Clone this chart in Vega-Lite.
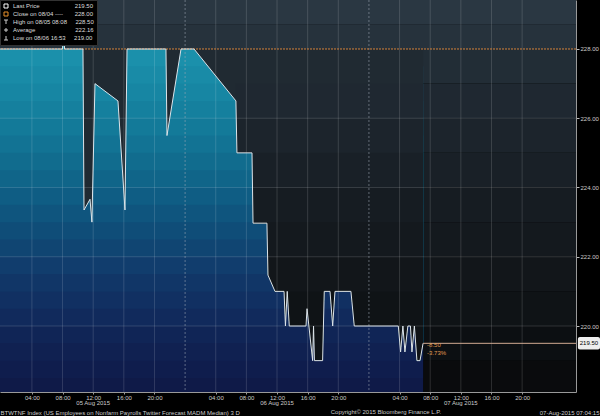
{
  "$schema": "https://vega.github.io/schema/vega-lite/v6.json",
  "width": 576,
  "height": 392,
  "autosize": {"type": "none"},
  "padding": {"left": 0, "top": 0, "right": 24, "bottom": 24},
  "background": "#000000",
  "config": {"view": {"stroke": null}, "font": "Liberation Sans", "axis": {"labelOverlap": false}},
  "datasets": {
    "series": [
      {"t": "2015-08-04T23:50:00Z", "v": 228},
      {"t": "2015-08-05T08:00:00Z", "v": 228},
      {"t": "2015-08-05T08:08:00Z", "v": 228.5},
      {"t": "2015-08-05T08:16:00Z", "v": 228},
      {"t": "2015-08-05T10:40:00Z", "v": 228},
      {"t": "2015-08-05T10:48:00Z", "v": 223.35},
      {"t": "2015-08-05T11:35:00Z", "v": 223.66},
      {"t": "2015-08-05T11:50:00Z", "v": 223.0},
      {"t": "2015-08-05T12:14:00Z", "v": 227.0},
      {"t": "2015-08-05T15:14:00Z", "v": 226.5},
      {"t": "2015-08-05T16:09:00Z", "v": 223.35},
      {"t": "2015-08-05T16:25:00Z", "v": 228},
      {"t": "2015-08-05T21:30:00Z", "v": 228},
      {"t": "2015-08-05T21:38:00Z", "v": 225.5},
      {"t": "2015-08-05T23:28:00Z", "v": 228},
      {"t": "2015-08-06T01:10:00Z", "v": 228},
      {"t": "2015-08-06T06:38:00Z", "v": 226.5},
      {"t": "2015-08-06T06:46:00Z", "v": 225.0},
      {"t": "2015-08-06T08:44:00Z", "v": 225.0},
      {"t": "2015-08-06T08:52:00Z", "v": 222.97},
      {"t": "2015-08-06T10:41:00Z", "v": 222.97},
      {"t": "2015-08-06T10:49:00Z", "v": 221.47},
      {"t": "2015-08-06T11:44:00Z", "v": 221.0},
      {"t": "2015-08-06T12:55:00Z", "v": 221.0},
      {"t": "2015-08-06T13:06:00Z", "v": 220.0},
      {"t": "2015-08-06T13:20:00Z", "v": 221.0},
      {"t": "2015-08-06T13:36:00Z", "v": 220.0},
      {"t": "2015-08-06T15:47:00Z", "v": 220.0},
      {"t": "2015-08-06T15:55:00Z", "v": 220.5},
      {"t": "2015-08-06T16:39:00Z", "v": 219.0},
      {"t": "2015-08-06T16:46:00Z", "v": 220.0},
      {"t": "2015-08-06T16:53:00Z", "v": 219.0},
      {"t": "2015-08-06T17:57:00Z", "v": 219.0},
      {"t": "2015-08-06T18:10:00Z", "v": 221.0},
      {"t": "2015-08-06T18:55:00Z", "v": 221.0},
      {"t": "2015-08-06T19:16:00Z", "v": 220.0},
      {"t": "2015-08-06T19:34:00Z", "v": 221.0},
      {"t": "2015-08-06T21:39:00Z", "v": 221.0},
      {"t": "2015-08-06T22:05:00Z", "v": 220.0},
      {"t": "2015-08-07T03:50:00Z", "v": 220.0},
      {"t": "2015-08-07T04:08:00Z", "v": 219.25},
      {"t": "2015-08-07T04:26:00Z", "v": 220.0},
      {"t": "2015-08-07T04:42:00Z", "v": 219.25},
      {"t": "2015-08-07T05:05:00Z", "v": 220.0},
      {"t": "2015-08-07T05:25:00Z", "v": 220.0},
      {"t": "2015-08-07T05:37:00Z", "v": 219.25},
      {"t": "2015-08-07T05:56:00Z", "v": 220.0},
      {"t": "2015-08-07T06:16:00Z", "v": 219.0},
      {"t": "2015-08-07T06:40:00Z", "v": 219.0},
      {"t": "2015-08-07T07:04:00Z", "v": 219.5}
    ],
    "legend": [
      {"item": "Last Price\u00a0\u00a0\u00a0\u00a0\u00a0\u00a0\u00a0\u00a0\u00a0\u00a0\u00a0\u00a0\u00a0\u00a0\u00a0\u00a0\u00a0\u00a0\u00a0\u00a0\u00a0219.50"},
      {"item": "Close on 08/04 ----\u00a0\u00a0\u00a0\u00a0\u00a0\u00a0\u00a0228.00"},
      {"item": "High on 08/05 08:08\u00a0\u00a0\u00a0\u00a0\u00a0228.50"},
      {"item": "Average\u00a0\u00a0\u00a0\u00a0\u00a0\u00a0\u00a0\u00a0\u00a0\u00a0\u00a0\u00a0\u00a0\u00a0\u00a0\u00a0\u00a0\u00a0\u00a0\u00a0\u00a0\u00a0\u00a0\u00a0222.16"},
      {"item": "Low on 08/06 16:53\u00a0\u00a0\u00a0\u00a0\u00a0219.00"}
    ],
    "notes": [
      {"t": "2015-08-07T07:04:00Z", "v": 219.5, "label": ["-8.50", "-3.73%"]}
    ],
    "dates": [
      {"t": "2015-08-05T12:00:00Z", "label": "05 Aug 2015"},
      {"t": "2015-08-06T12:00:00Z", "label": "06 Aug 2015"},
      {"t": "2015-08-07T12:00:00Z", "label": "07 Aug 2015"}
    ]
  },
  "layer": [
    {"data": {"name": "notes"}, "mark": {"type": "rect", "color": "#2a3742"}, "encoding": {"x": {"datum": {"utc": true, "year": 2015, "month": 8, "date": 4, "hours": 23, "minutes": 50}, "type": "temporal"}, "x2": {"datum": {"utc": true, "year": 2015, "month": 8, "date": 8, "hours": 3, "minutes": 2}}, "y": {"datum": 229.415, "type": "quantitative"}, "y2": {"datum": 228.7}}},
    {"data": {"name": "notes"}, "mark": {"type": "rect", "color": "#26323c"}, "encoding": {"x": {"datum": {"utc": true, "year": 2015, "month": 8, "date": 4, "hours": 23, "minutes": 50}, "type": "temporal"}, "x2": {"datum": {"utc": true, "year": 2015, "month": 8, "date": 8, "hours": 3, "minutes": 2}}, "y": {"datum": 228.7, "type": "quantitative"}, "y2": {"datum": 228}}},
    {"data": {"name": "notes"}, "mark": {"type": "rect", "color": "#222d36"}, "encoding": {"x": {"datum": {"utc": true, "year": 2015, "month": 8, "date": 4, "hours": 23, "minutes": 50}, "type": "temporal"}, "x2": {"datum": {"utc": true, "year": 2015, "month": 8, "date": 8, "hours": 3, "minutes": 2}}, "y": {"datum": 228, "type": "quantitative"}, "y2": {"datum": 227}}},
    {"data": {"name": "notes"}, "mark": {"type": "rect", "color": "#1f2831"}, "encoding": {"x": {"datum": {"utc": true, "year": 2015, "month": 8, "date": 4, "hours": 23, "minutes": 50}, "type": "temporal"}, "x2": {"datum": {"utc": true, "year": 2015, "month": 8, "date": 8, "hours": 3, "minutes": 2}}, "y": {"datum": 227, "type": "quantitative"}, "y2": {"datum": 226}}},
    {"data": {"name": "notes"}, "mark": {"type": "rect", "color": "#1c242c"}, "encoding": {"x": {"datum": {"utc": true, "year": 2015, "month": 8, "date": 4, "hours": 23, "minutes": 50}, "type": "temporal"}, "x2": {"datum": {"utc": true, "year": 2015, "month": 8, "date": 8, "hours": 3, "minutes": 2}}, "y": {"datum": 226, "type": "quantitative"}, "y2": {"datum": 225}}},
    {"data": {"name": "notes"}, "mark": {"type": "rect", "color": "#192027"}, "encoding": {"x": {"datum": {"utc": true, "year": 2015, "month": 8, "date": 4, "hours": 23, "minutes": 50}, "type": "temporal"}, "x2": {"datum": {"utc": true, "year": 2015, "month": 8, "date": 8, "hours": 3, "minutes": 2}}, "y": {"datum": 225, "type": "quantitative"}, "y2": {"datum": 224}}},
    {"data": {"name": "notes"}, "mark": {"type": "rect", "color": "#161c22"}, "encoding": {"x": {"datum": {"utc": true, "year": 2015, "month": 8, "date": 4, "hours": 23, "minutes": 50}, "type": "temporal"}, "x2": {"datum": {"utc": true, "year": 2015, "month": 8, "date": 8, "hours": 3, "minutes": 2}}, "y": {"datum": 224, "type": "quantitative"}, "y2": {"datum": 223}}},
    {"data": {"name": "notes"}, "mark": {"type": "rect", "color": "#14191e"}, "encoding": {"x": {"datum": {"utc": true, "year": 2015, "month": 8, "date": 4, "hours": 23, "minutes": 50}, "type": "temporal"}, "x2": {"datum": {"utc": true, "year": 2015, "month": 8, "date": 8, "hours": 3, "minutes": 2}}, "y": {"datum": 223, "type": "quantitative"}, "y2": {"datum": 222}}},
    {"data": {"name": "notes"}, "mark": {"type": "rect", "color": "#12161a"}, "encoding": {"x": {"datum": {"utc": true, "year": 2015, "month": 8, "date": 4, "hours": 23, "minutes": 50}, "type": "temporal"}, "x2": {"datum": {"utc": true, "year": 2015, "month": 8, "date": 8, "hours": 3, "minutes": 2}}, "y": {"datum": 222, "type": "quantitative"}, "y2": {"datum": 221}}},
    {"data": {"name": "notes"}, "mark": {"type": "rect", "color": "#0f1316"}, "encoding": {"x": {"datum": {"utc": true, "year": 2015, "month": 8, "date": 4, "hours": 23, "minutes": 50}, "type": "temporal"}, "x2": {"datum": {"utc": true, "year": 2015, "month": 8, "date": 8, "hours": 3, "minutes": 2}}, "y": {"datum": 221, "type": "quantitative"}, "y2": {"datum": 220}}},
    {"data": {"name": "notes"}, "mark": {"type": "rect", "color": "#0c0f12"}, "encoding": {"x": {"datum": {"utc": true, "year": 2015, "month": 8, "date": 4, "hours": 23, "minutes": 50}, "type": "temporal"}, "x2": {"datum": {"utc": true, "year": 2015, "month": 8, "date": 8, "hours": 3, "minutes": 2}}, "y": {"datum": 220, "type": "quantitative"}, "y2": {"datum": 219}}},
    {"data": {"name": "notes"}, "mark": {"type": "rect", "color": "#0a0b0d"}, "encoding": {"x": {"datum": {"utc": true, "year": 2015, "month": 8, "date": 4, "hours": 23, "minutes": 50}, "type": "temporal"}, "x2": {"datum": {"utc": true, "year": 2015, "month": 8, "date": 8, "hours": 3, "minutes": 2}}, "y": {"datum": 219, "type": "quantitative"}, "y2": {"datum": 218.094}}},

    {"data": {"name": "series"}, "mark": {"type": "area", "interpolate": "linear", "color": "#0f1a48", "opacity": 1}, "encoding": {"x": {"field": "t", "type": "temporal"}, "y": {"field": "v", "type": "quantitative"}, "y2": {"datum": 218.094}}},
    {"data": {"name": "series"}, "mark": {"type": "area", "interpolate": "linear", "color": "#0f1d4d", "opacity": 1}, "encoding": {"x": {"field": "t", "type": "temporal"}, "y": {"field": "v", "type": "quantitative"}, "y2": {"datum": 218.5}}},
    {"data": {"name": "series"}, "mark": {"type": "area", "interpolate": "linear", "color": "#102151", "opacity": 1}, "encoding": {"x": {"field": "t", "type": "temporal"}, "y": {"field": "v", "type": "quantitative"}, "y2": {"datum": 219}}},
    {"data": {"name": "series"}, "mark": {"type": "area", "interpolate": "linear", "color": "#102556", "opacity": 1}, "encoding": {"x": {"field": "t", "type": "temporal"}, "y": {"field": "v", "type": "quantitative"}, "y2": {"datum": 219.5}}},
    {"data": {"name": "series"}, "mark": {"type": "area", "interpolate": "linear", "color": "#112a5c", "opacity": 1}, "encoding": {"x": {"field": "t", "type": "temporal"}, "y": {"field": "v", "type": "quantitative"}, "y2": {"datum": 220}}},
    {"data": {"name": "series"}, "mark": {"type": "area", "interpolate": "linear", "color": "#113062", "opacity": 1}, "encoding": {"x": {"field": "t", "type": "temporal"}, "y": {"field": "v", "type": "quantitative"}, "y2": {"datum": 220.5}}},
    {"data": {"name": "series"}, "mark": {"type": "area", "interpolate": "linear", "color": "#113667", "opacity": 1}, "encoding": {"x": {"field": "t", "type": "temporal"}, "y": {"field": "v", "type": "quantitative"}, "y2": {"datum": 221}}},
    {"data": {"name": "series"}, "mark": {"type": "area", "interpolate": "linear", "color": "#113d6d", "opacity": 1}, "encoding": {"x": {"field": "t", "type": "temporal"}, "y": {"field": "v", "type": "quantitative"}, "y2": {"datum": 221.5}}},
    {"data": {"name": "series"}, "mark": {"type": "area", "interpolate": "linear", "color": "#104572", "opacity": 1}, "encoding": {"x": {"field": "t", "type": "temporal"}, "y": {"field": "v", "type": "quantitative"}, "y2": {"datum": 222}}},
    {"data": {"name": "series"}, "mark": {"type": "area", "interpolate": "linear", "color": "#0f4d78", "opacity": 1}, "encoding": {"x": {"field": "t", "type": "temporal"}, "y": {"field": "v", "type": "quantitative"}, "y2": {"datum": 222.5}}},
    {"data": {"name": "series"}, "mark": {"type": "area", "interpolate": "linear", "color": "#0f557e", "opacity": 1}, "encoding": {"x": {"field": "t", "type": "temporal"}, "y": {"field": "v", "type": "quantitative"}, "y2": {"datum": 223}}},
    {"data": {"name": "series"}, "mark": {"type": "area", "interpolate": "linear", "color": "#0f5d84", "opacity": 1}, "encoding": {"x": {"field": "t", "type": "temporal"}, "y": {"field": "v", "type": "quantitative"}, "y2": {"datum": 223.5}}},
    {"data": {"name": "series"}, "mark": {"type": "area", "interpolate": "linear", "color": "#106589", "opacity": 1}, "encoding": {"x": {"field": "t", "type": "temporal"}, "y": {"field": "v", "type": "quantitative"}, "y2": {"datum": 224}}},
    {"data": {"name": "series"}, "mark": {"type": "area", "interpolate": "linear", "color": "#116c8e", "opacity": 1}, "encoding": {"x": {"field": "t", "type": "temporal"}, "y": {"field": "v", "type": "quantitative"}, "y2": {"datum": 224.5}}},
    {"data": {"name": "series"}, "mark": {"type": "area", "interpolate": "linear", "color": "#127394", "opacity": 1}, "encoding": {"x": {"field": "t", "type": "temporal"}, "y": {"field": "v", "type": "quantitative"}, "y2": {"datum": 225}}},
    {"data": {"name": "series"}, "mark": {"type": "area", "interpolate": "linear", "color": "#137a99", "opacity": 1}, "encoding": {"x": {"field": "t", "type": "temporal"}, "y": {"field": "v", "type": "quantitative"}, "y2": {"datum": 225.5}}},
    {"data": {"name": "series"}, "mark": {"type": "area", "interpolate": "linear", "color": "#15809e", "opacity": 1}, "encoding": {"x": {"field": "t", "type": "temporal"}, "y": {"field": "v", "type": "quantitative"}, "y2": {"datum": 226}}},
    {"data": {"name": "series"}, "mark": {"type": "area", "interpolate": "linear", "color": "#1786a3", "opacity": 1}, "encoding": {"x": {"field": "t", "type": "temporal"}, "y": {"field": "v", "type": "quantitative"}, "y2": {"datum": 226.5}}},
    {"data": {"name": "series"}, "mark": {"type": "area", "interpolate": "linear", "color": "#198ba7", "opacity": 1}, "encoding": {"x": {"field": "t", "type": "temporal"}, "y": {"field": "v", "type": "quantitative"}, "y2": {"datum": 227}}},
    {"data": {"name": "series"}, "mark": {"type": "area", "interpolate": "linear", "color": "#1b90ab", "opacity": 1}, "encoding": {"x": {"field": "t", "type": "temporal"}, "y": {"field": "v", "type": "quantitative"}, "y2": {"datum": 227.5}}},

    {"data": {"name": "series"}, "transform": [{"filter": {"field": "t", "gte": {"utc": true, "year": 2015, "month": 8, "date": 5, "hours": 10, "minutes": 40}}}], "mark": {"type": "area", "interpolate": "linear", "color": "#202a32", "opacity": 1}, "encoding": {"x": {"field": "t", "type": "temporal"}, "y": {"field": "v", "type": "quantitative"}, "y2": {"datum": 228}}},
    {"data": {"name": "series"}, "transform": [{"filter": {"field": "t", "gte": {"utc": true, "year": 2015, "month": 8, "date": 6, "hours": 6, "minutes": 38}}}], "mark": {"type": "area", "interpolate": "linear", "color": "#1f2831", "opacity": 1}, "encoding": {"x": {"field": "t", "type": "temporal"}, "y": {"field": "v", "type": "quantitative"}, "y2": {"datum": 227}}},
    {"data": {"name": "series"}, "transform": [{"filter": {"field": "t", "gte": {"utc": true, "year": 2015, "month": 8, "date": 6, "hours": 6, "minutes": 46}}}], "mark": {"type": "area", "interpolate": "linear", "color": "#1c242c", "opacity": 1}, "encoding": {"x": {"field": "t", "type": "temporal"}, "y": {"field": "v", "type": "quantitative"}, "y2": {"datum": 226}}},
    {"data": {"name": "series"}, "transform": [{"filter": {"field": "t", "gte": {"utc": true, "year": 2015, "month": 8, "date": 6, "hours": 6, "minutes": 46}}}], "mark": {"type": "area", "interpolate": "linear", "color": "#192027", "opacity": 1}, "encoding": {"x": {"field": "t", "type": "temporal"}, "y": {"field": "v", "type": "quantitative"}, "y2": {"datum": 225}}},
    {"data": {"name": "series"}, "transform": [{"filter": {"field": "t", "gte": {"utc": true, "year": 2015, "month": 8, "date": 6, "hours": 8, "minutes": 52}}}], "mark": {"type": "area", "interpolate": "linear", "color": "#161c22", "opacity": 1}, "encoding": {"x": {"field": "t", "type": "temporal"}, "y": {"field": "v", "type": "quantitative"}, "y2": {"datum": 224}}},
    {"data": {"name": "series"}, "transform": [{"filter": {"field": "t", "gte": {"utc": true, "year": 2015, "month": 8, "date": 6, "hours": 8, "minutes": 52}}}], "mark": {"type": "area", "interpolate": "linear", "color": "#14191e", "opacity": 1}, "encoding": {"x": {"field": "t", "type": "temporal"}, "y": {"field": "v", "type": "quantitative"}, "y2": {"datum": 223}}},
    {"data": {"name": "series"}, "transform": [{"filter": {"field": "t", "gte": {"utc": true, "year": 2015, "month": 8, "date": 6, "hours": 10, "minutes": 49}}}], "mark": {"type": "area", "interpolate": "linear", "color": "#12161a", "opacity": 1}, "encoding": {"x": {"field": "t", "type": "temporal"}, "y": {"field": "v", "type": "quantitative"}, "y2": {"datum": 222}}},
    {"data": {"name": "series"}, "transform": [{"filter": {"field": "t", "gte": {"utc": true, "year": 2015, "month": 8, "date": 6, "hours": 11, "minutes": 44}}}], "mark": {"type": "area", "interpolate": "linear", "color": "#0f1316", "opacity": 1}, "encoding": {"x": {"field": "t", "type": "temporal"}, "y": {"field": "v", "type": "quantitative"}, "y2": {"datum": 221}}},

    {"data": {"name": "notes"}, "mark": {"type": "rule", "color": "#ffffff", "opacity": 0.14}, "encoding": {"y": {"datum": 220, "type": "quantitative"}}},
    {"data": {"name": "notes"}, "mark": {"type": "rule", "color": "#ffffff", "opacity": 0.14}, "encoding": {"y": {"datum": 222, "type": "quantitative"}}},
    {"data": {"name": "notes"}, "mark": {"type": "rule", "color": "#ffffff", "opacity": 0.14}, "encoding": {"y": {"datum": 224, "type": "quantitative"}}},
    {"data": {"name": "notes"}, "mark": {"type": "rule", "color": "#ffffff", "opacity": 0.14}, "encoding": {"y": {"datum": 226, "type": "quantitative"}}},
    {"data": {"name": "notes"}, "mark": {"type": "rule", "color": "#ffffff", "opacity": 0.14}, "encoding": {"x": {"datum": {"utc": true, "year": 2015, "month": 8, "date": 5, "hours": 4}, "type": "temporal"}}},
    {"data": {"name": "notes"}, "mark": {"type": "rule", "color": "#ffffff", "opacity": 0.14}, "encoding": {"x": {"datum": {"utc": true, "year": 2015, "month": 8, "date": 5, "hours": 8}, "type": "temporal"}}},
    {"data": {"name": "notes"}, "mark": {"type": "rule", "color": "#ffffff", "opacity": 0.14}, "encoding": {"x": {"datum": {"utc": true, "year": 2015, "month": 8, "date": 5, "hours": 12}, "type": "temporal"}}},
    {"data": {"name": "notes"}, "mark": {"type": "rule", "color": "#ffffff", "opacity": 0.14}, "encoding": {"x": {"datum": {"utc": true, "year": 2015, "month": 8, "date": 5, "hours": 16}, "type": "temporal"}}},
    {"data": {"name": "notes"}, "mark": {"type": "rule", "color": "#ffffff", "opacity": 0.14}, "encoding": {"x": {"datum": {"utc": true, "year": 2015, "month": 8, "date": 5, "hours": 20}, "type": "temporal"}}},
    {"data": {"name": "notes"}, "mark": {"type": "rule", "color": "#ffffff", "opacity": 0.14}, "encoding": {"x": {"datum": {"utc": true, "year": 2015, "month": 8, "date": 6, "hours": 4}, "type": "temporal"}}},
    {"data": {"name": "notes"}, "mark": {"type": "rule", "color": "#ffffff", "opacity": 0.14}, "encoding": {"x": {"datum": {"utc": true, "year": 2015, "month": 8, "date": 6, "hours": 8}, "type": "temporal"}}},
    {"data": {"name": "notes"}, "mark": {"type": "rule", "color": "#ffffff", "opacity": 0.14}, "encoding": {"x": {"datum": {"utc": true, "year": 2015, "month": 8, "date": 6, "hours": 12}, "type": "temporal"}}},
    {"data": {"name": "notes"}, "mark": {"type": "rule", "color": "#ffffff", "opacity": 0.14}, "encoding": {"x": {"datum": {"utc": true, "year": 2015, "month": 8, "date": 6, "hours": 16}, "type": "temporal"}}},
    {"data": {"name": "notes"}, "mark": {"type": "rule", "color": "#ffffff", "opacity": 0.14}, "encoding": {"x": {"datum": {"utc": true, "year": 2015, "month": 8, "date": 6, "hours": 20}, "type": "temporal"}}},
    {"data": {"name": "notes"}, "mark": {"type": "rule", "color": "#ffffff", "opacity": 0.14}, "encoding": {"x": {"datum": {"utc": true, "year": 2015, "month": 8, "date": 7, "hours": 4}, "type": "temporal"}}},
    {"data": {"name": "notes"}, "mark": {"type": "rule", "color": "#ffffff", "opacity": 0.14}, "encoding": {"x": {"datum": {"utc": true, "year": 2015, "month": 8, "date": 7, "hours": 8}, "type": "temporal"}}},
    {"data": {"name": "notes"}, "mark": {"type": "rule", "color": "#ffffff", "opacity": 0.14}, "encoding": {"x": {"datum": {"utc": true, "year": 2015, "month": 8, "date": 7, "hours": 12}, "type": "temporal"}}},
    {"data": {"name": "notes"}, "mark": {"type": "rule", "color": "#ffffff", "opacity": 0.14}, "encoding": {"x": {"datum": {"utc": true, "year": 2015, "month": 8, "date": 7, "hours": 16}, "type": "temporal"}}},
    {"data": {"name": "notes"}, "mark": {"type": "rule", "color": "#ffffff", "opacity": 0.14}, "encoding": {"x": {"datum": {"utc": true, "year": 2015, "month": 8, "date": 7, "hours": 20}, "type": "temporal"}}},
    {"data": {"name": "notes"}, "mark": {"type": "rule", "color": "#a0aab4", "opacity": 0.55, "strokeDash": [2, 2]}, "encoding": {"x": {"datum": {"utc": true, "year": 2015, "month": 8, "date": 6, "hours": 0}, "type": "temporal"}}},
    {"data": {"name": "notes"}, "mark": {"type": "rule", "color": "#a0aab4", "opacity": 0.55, "strokeDash": [2, 2]}, "encoding": {"x": {"datum": {"utc": true, "year": 2015, "month": 8, "date": 7, "hours": 0}, "type": "temporal"}}},

    {"data": {"name": "notes"}, "mark": {"type": "rule", "color": "#d4823c", "strokeWidth": 1, "strokeDash": [2, 1]}, "encoding": {"y": {"datum": 228, "type": "quantitative"}}},
    {
      "data": {"name": "series"},
      "mark": {"type": "line", "interpolate": "linear", "color": "#dce4ea", "strokeWidth": 1},
      "encoding": {
        "x": {"field": "t", "type": "temporal",
          "scale": {"type": "utc", "domain": [{"utc": true, "year": 2015, "month": 8, "date": 4, "hours": 23, "minutes": 50}, {"utc": true, "year": 2015, "month": 8, "date": 8, "hours": 3, "minutes": 2}]},
          "axis": {
            "values": [
              {"utc": true, "year": 2015, "month": 8, "date": 5, "hours": 4},
              {"utc": true, "year": 2015, "month": 8, "date": 5, "hours": 8},
              {"utc": true, "year": 2015, "month": 8, "date": 5, "hours": 12},
              {"utc": true, "year": 2015, "month": 8, "date": 5, "hours": 16},
              {"utc": true, "year": 2015, "month": 8, "date": 5, "hours": 20},
              {"utc": true, "year": 2015, "month": 8, "date": 6, "hours": 4},
              {"utc": true, "year": 2015, "month": 8, "date": 6, "hours": 8},
              {"utc": true, "year": 2015, "month": 8, "date": 6, "hours": 12},
              {"utc": true, "year": 2015, "month": 8, "date": 6, "hours": 16},
              {"utc": true, "year": 2015, "month": 8, "date": 6, "hours": 20},
              {"utc": true, "year": 2015, "month": 8, "date": 7, "hours": 4},
              {"utc": true, "year": 2015, "month": 8, "date": 7, "hours": 8},
              {"utc": true, "year": 2015, "month": 8, "date": 7, "hours": 12},
              {"utc": true, "year": 2015, "month": 8, "date": 7, "hours": 16},
              {"utc": true, "year": 2015, "month": 8, "date": 7, "hours": 20}
            ],
            "format": "%H:%M",
            "labelFontSize": 6, "labelColor": "#cccccc", "labelFont": "Liberation Sans", "labelPadding": 0,
            "labelOverlap": false, "labelFlush": false,
            "tickColor": "#999999", "tickSize": 2,
            "domainColor": "#999999",
            "grid": false,
            "title": "BTWTNF Index (US Employees on Nonfarm Payrolls Twitter Forecast MADM Median) 3 D",
            "titleX": 0, "titleY": 20, "titleAlign": "left", "titleBaseline": "middle",
            "titleFontSize": 6, "titleFontWeight": "normal", "titleColor": "#cccccc", "titleFont": "Liberation Sans"
          }},
        "y": {"field": "v", "type": "quantitative",
          "scale": {"domain": [218.094, 229.415], "zero": false, "nice": false},
          "axis": {
            "orient": "right",
            "values": [220, 222, 224, 226, 228],
            "format": ".2f",
            "labelFontSize": 6, "labelColor": "#cccccc", "labelFont": "Liberation Sans", "labelPadding": 1,
            "tickColor": "#bbbbbb", "tickSize": 3,
            "domainColor": "#999999",
            "grid": false,
            "title": "07-Aug-2015 07:04:15",
            "titleAngle": 0, "titleX": 23, "titleY": 412, "titleAlign": "right", "titleBaseline": "middle",
            "titleFontSize": 6, "titleFontWeight": "normal", "titleColor": "#cccccc", "titleFont": "Liberation Sans"
          }}
      }
    },
    {
      "data": {"name": "notes"},
      "mark": {"type": "rule", "color": "#d2ab92", "strokeWidth": 1},
      "encoding": {
        "x": {"datum": {"utc": true, "year": 2015, "month": 8, "date": 7, "hours": 7, "minutes": 4}, "type": "temporal"},
        "x2": {"datum": {"utc": true, "year": 2015, "month": 8, "date": 8, "hours": 3, "minutes": 2}},
        "y": {"datum": 219.5, "type": "quantitative"}
      }
    },
    {
      "data": {"name": "notes"},
      "mark": {"type": "text", "align": "left", "baseline": "top", "dx": 4, "dy": -1, "fontSize": 6, "lineHeight": 8, "color": "#e09a50", "font": "Liberation Sans"},
      "encoding": {
        "x": {"field": "t", "type": "temporal"},
        "y": {"field": "v", "type": "quantitative"},
        "text": {"field": "label", "type": "nominal"}
      }
    },
    {
      "data": {"name": "dates"},
      "mark": {"type": "text", "align": "center", "baseline": "middle", "fontSize": 6, "color": "#cccccc", "font": "Liberation Sans"},
      "encoding": {
        "x": {"field": "t", "type": "temporal"},
        "y": {"datum": 217.776, "type": "quantitative"},
        "text": {"field": "label", "type": "nominal"}
      }
    },
    {
      "data": {"name": "notes"},
      "mark": {"type": "text", "align": "center", "baseline": "middle", "fontSize": 6, "color": "#cccccc", "font": "Liberation Sans"},
      "encoding": {
        "x": {"datum": {"utc": true, "year": 2015, "month": 8, "date": 7, "hours": 2, "minutes": 13}, "type": "temporal"},
        "y": {"datum": 217.52, "type": "quantitative"},
        "text": {"value": "Copyright© 2015 Bloomberg Finance L.P."}
      }
    },
    {
      "data": {"name": "notes"},
      "mark": {"type": "rect", "color": "#eeeeee", "cornerRadius": 2},
      "encoding": {
        "x": {"datum": {"utc": true, "year": 2015, "month": 8, "date": 8, "hours": 3, "minutes": 17}, "type": "temporal"},
        "x2": {"datum": {"utc": true, "year": 2015, "month": 8, "date": 8, "hours": 6, "minutes": 10}},
        "y": {"datum": 219.68, "type": "quantitative"},
        "y2": {"datum": 219.32}
      }
    },
    {
      "data": {"name": "notes"},
      "mark": {"type": "text", "align": "center", "baseline": "middle", "fontSize": 6, "color": "#000000", "font": "Liberation Sans"},
      "encoding": {
        "x": {"datum": {"utc": true, "year": 2015, "month": 8, "date": 8, "hours": 4, "minutes": 43}, "type": "temporal"},
        "y": {"datum": 219.5, "type": "quantitative"},
        "text": {"value": "219.50"}
      }
    },
    {
      "data": {"name": "legend"},
      "mark": {"type": "point", "opacity": 0, "filled": false},
      "encoding": {
        "stroke": {"field": "item", "type": "nominal",
          "scale": {"range": ["#ffffff", "#e8902a", "#cccccc", "#cccccc", "#cccccc"]},
          "sort": null,
          "legend": {"orient": "none", "legendX": 0, "legendY": 0, "title": null,
            "fillColor": "#000000", "strokeColor": "#333333",
            "padding": 3, "symbolSize": 16, "symbolStrokeWidth": 1, "labelOffset": 4,
            "labelFontSize": 6, "labelColor": "#dddddd", "labelFont": "Liberation Sans", "rowPadding": 0, "zindex": 3,
            "encode": {"symbols": {"update": {"opacity": {"value": 1}, "fill": {"scale": "stroke", "field": "value"}}}}}
        },
        "shape": {"field": "item", "type": "nominal",
          "scale": {"range": ["square", "square", "M-1,-1H1M0,-1V1", "M-1,0H1M0,-1V1", "M0,-1V1M-1,1H1"]},
          "sort": null,
          "legend": {"orient": "none", "legendX": 0, "legendY": 0, "title": null,
            "fillColor": "#000000", "strokeColor": "#333333",
            "padding": 3, "symbolSize": 16, "symbolStrokeWidth": 1, "labelOffset": 4,
            "labelFontSize": 6, "labelColor": "#dddddd", "labelFont": "Liberation Sans", "rowPadding": 0, "zindex": 3,
            "encode": {"symbols": {"update": {"opacity": {"value": 1}, "fill": {"scale": "stroke", "field": "value"}}}}}
        }
      }
    }
  ]
}
